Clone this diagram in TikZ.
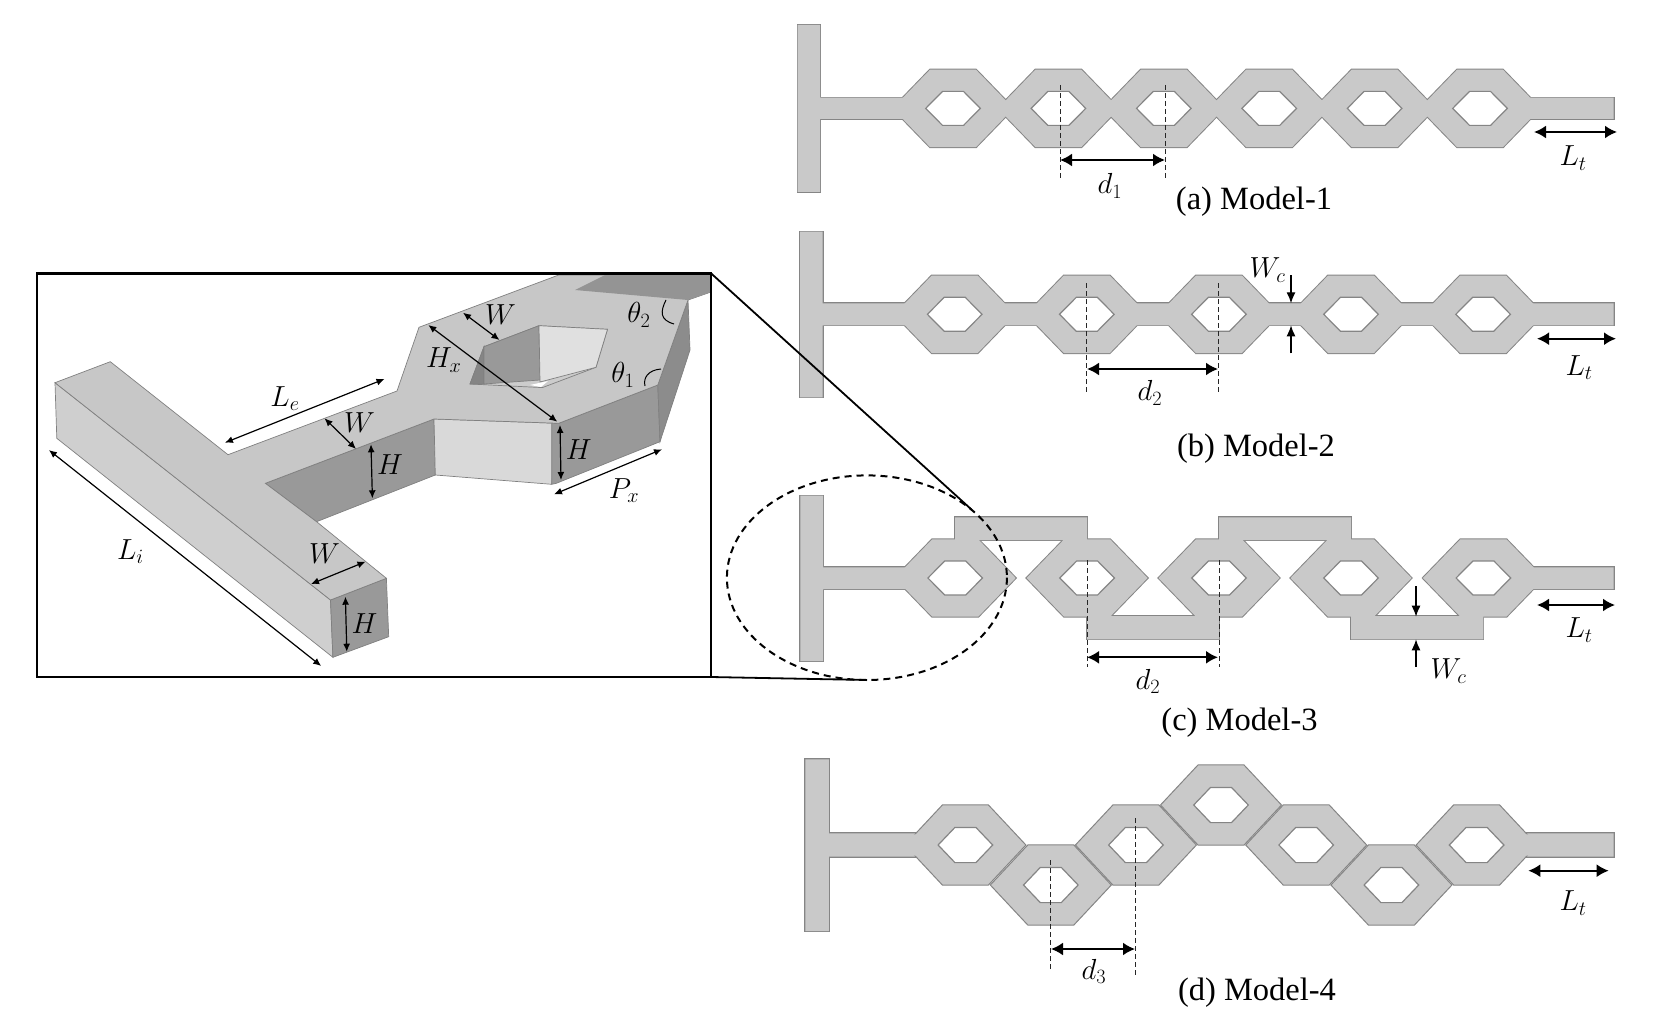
\documentclass[tikz,border=0pt]{standalone}
\usepackage{fix-cm}
\usepackage{amsmath}
\usepackage{fontspec}
\setmainfont{Liberation Serif}
\usetikzlibrary{arrows.meta}
\newcommand{\hexagon}{(-60.5,0) -- (-23,-38.7) -- (23,-38.7) -- (60.5,0) -- (23,38.7) -- (-23,38.7) -- cycle}
\newcommand{\hexhole}{(-27.3,0) -- (-10.5,-17) -- (10.5,-17) -- (27.3,0) -- (10.5,17) -- (-10.5,17) -- cycle}
\begin{document}
\begin{tikzpicture}
		[x=1pt,y=-1pt,
		edgepass/.style ={draw=black!48, line width=2pt, fill=black!48},
		bodypass/.style ={fill=black!21},
		cell/.style ={draw=black!48, line width=1pt, fill=black!21},
		hole/.style ={draw=black!48, line width=1.2pt, fill=white},
		wall/.style ={draw=black!50, line width=.7pt},
		guide/.style ={draw=black!85, line width=1pt, dash pattern=on 5pt off 3pt},
		bigdim/.style ={line width=2pt, <->, >={Latex[length=12pt,width=13pt]}},
		thindim/.style ={line width=1.2pt, <->, >={Latex[length=8pt,width=7pt]}},
		pinch/.style ={line width=1.3pt, ->, >={Latex[length=11pt,width=9pt]}},
		lab/.style ={inner sep=0pt, font=\fontsize{29}{34}\selectfont},
		caption/.style ={inner sep=0pt, font=\fontsize{32.5}{38}\selectfont}]
		\useasboundingbox (0,0) rectangle (1661,1011);

		% model 1
		\foreach \pass in {edgepass,bodypass}{
			\path[\pass] (797.5,25) rectangle (820,192) (815,97.7) rectangle (905,119) (1510,97.7) rectangle (1613.5,119);
			\foreach \cx in {953,1058.4,1163.8,1269.2,1374.6,1480}
				\path[\pass,shift={(\cx,108.4)}] \hexagon;
		}
		\foreach \cx in {953,1058.4,1163.8,1269.2,1374.6,1480}
			\path[hole,shift={(\cx,108.4)}] \hexhole;
		\path[guide] (1060,85) -- (1060,180) (1165,85) -- (1165,180);
		\path[bigdim] (1060,160) edge (1165,160) (1534,132) edge (1617,132);
		\node[lab] (done) at (1110,186) {$d_1$};
		\node[lab] (ltone) at (1573,158) {$L_t$};
		\node[caption] (capone) at (1254,202) {(a) Model-1};

		% model 2
		\foreach \pass in {edgepass,bodypass}{
			\path[\pass] (800,231.5) rectangle (822.7,397.3) (815,303.3) rectangle (915,325.3) (950,303.3) rectangle (1613.5,325.3);
			\foreach \cx in {954.7,1086.8,1218.9,1351,1483.1}
				\path[\pass,shift={(\cx,314.3)}] \hexagon;
		}
		\foreach \cx in {954.7,1086.8,1218.9,1351,1483.1}
			\path[hole,shift={(\cx,314.3)}] \hexhole;
		\path[guide] (1086.8,283) -- (1086.8,393) (1218.9,283) -- (1218.9,393);
		\path[bigdim] (1087,369) edge (1218,369) (1537,338.7) edge (1616,338.7);
		\path[pinch] (1291,275) edge (1291,303.3) (1291,353.3) edge (1291,325.3);
		\node[lab] (wctwo) at (1267.6,270) {$W_c$};
		\node[lab] (dtwo) at (1150,393) {$d_2$};
		\node[lab] (lttwo) at (1579,367.7) {$L_t$};
		\node[caption] (captwo) at (1256,449) {(b) Model-2};

		% model 3
		\foreach \pass in {edgepass,bodypass}{
			\path[\pass] (800.4,495.7) rectangle (823.2,661) (815,567.3) rectangle (915,589) (1520,567.3) rectangle (1613.5,589);
			\path[\pass] (955.2,517.3) rectangle (1087.1,540) (1219,517.3) rectangle (1351,540);
			\path[\pass] (1087.1,616) rectangle (1219,639.3) (1351,616) rectangle (1483.4,639.3);
			\foreach \cx in {955.2,1087.1,1219,1351,1483.4}
				\path[\pass,shift={(\cx,578)}] \hexagon;
		}
		\foreach \cx in {955.2,1087.1,1219,1351,1483.4}
			\path[hole,shift={(\cx,578)}] \hexhole;
		\path[guide] (1087.1,560) -- (1087.1,667) (1219,560) -- (1219,667);
		\path[bigdim] (1087,657.3) edge (1218,657.3) (1537,605) edge (1615,605);
		\path[pinch] (1416,586) edge (1416,616.7) (1416,667) edge (1416,639.3);
		\node[lab] (dthree) at (1148,681.7) {$d_2$};
		\node[lab] (wcthree) at (1448.5,671) {$W_c$};
		\node[lab] (ltthree) at (1579,630) {$L_t$};
		\node[caption] (capthree) at (1239.5,723) {(c) Model-3};

		% model 4
		\foreach \pass in {edgepass,bodypass}
			\path[\pass] (805.3,759.3) rectangle (828.9,931) (820,833.3) rectangle (915,856.7) (1525,833.3) rectangle (1613.5,856.7);
		\foreach \cx/\cy in {965.4/845,1050.8/885,1135.9/845,1221/805,1306.2/845,1391.4/885,1476.6/845}{
			\path[cell,shift={(\cx,\cy)},yscale=1.035] \hexagon;
			\path[hole,shift={(\cx,\cy)},yscale=1.035] \hexhole;
		}
		\path[bodypass] (825,834.3) rectangle (925,855.7) (1520,834.3) rectangle (1612.5,855.7);
		\path[guide] (1050.5,860) -- (1050.5,969.3) (1135.6,818) -- (1135.6,977.3);
		\path[bigdim] (1051,949) edge (1135,949) (1528.3,870.7) edge (1608.7,870.7);
		\node[lab] (dfour) at (1094,971.7) {$d_3$};
		\node[lab] (ltfour) at (1573,903) {$L_t$};
		\node[caption] (capfour) at (1257,993) {(d) Model-4};

		% zoomed part
		\path[wall, fill=black!19] (55,382.7) -- (330.5,600) -- (332.9,657.3) -- (56.8,438.3) -- cycle;
		\path[wall, fill=black!40] (330.5,600) -- (386.4,578.3) -- (388.7,636.7) -- (332.9,657.3) -- cycle;
		\path[wall, fill=black!40] (265.4,483.3) -- (434,419) -- (435.3,475) -- (316.6,521.7) -- cycle;
		\path[wall, fill=black!15] (434,419) -- (558,423.3) -- (551.7,484.3) -- (435.3,475) -- cycle;
		\path[wall, fill=black!40] (551.7,423) -- (558.7,423.3) -- (657.8,385) -- (660,441.7) -- (556.3,483.3) -- (551.7,484.3) -- cycle;
		\path[wall, fill=black!45] (657.8,385) -- (688,300) -- (690,350) -- (660,441.7) -- cycle;
		\path[wall, fill=black!22] (55,382.7) -- (110.3,361.7) -- (228,454.7) -- (397,391) -- (419,327.3) -- (558.7,275) -- (711,275) -- (711,292) -- (688,300) -- (657.8,385) -- (558.7,423.3) -- (434,419) -- (265.4,483.3) -- (316.6,521.7) -- (386.4,578.3) -- (330.5,600) -- cycle;
		\path[fill=black!42] (575,290) -- (605,275) -- (711,275) -- (711,292) -- (688,300) -- cycle;
		\path[wall, fill=black!20] (484,346.7) -- (539,325.7) -- (607.5,329.3) -- (596,367.3) -- (542.4,387.6) -- (470,384) -- cycle;
		\path[wall, fill=black!48] (470,384) -- (484,346.7) -- (484,384) -- cycle;
		\path[wall, fill=black!40] (484,346.7) -- (539,325.7) -- (540,380) -- (484,384) -- cycle;
		\path[wall, fill=black!12] (539,325.7) -- (607.5,329.3) -- (596,367.3) -- (540,382) -- cycle;
		\path[fill=white] (530,385) -- (548,381) -- (541,387) -- cycle;

		\path[thindim] (48.9,450) edge (321.2,666) (224.9,442.7) edge (384.5,379)
			(324.5,418.3) edge (356,449) (371,444.3) edge (372.4,498.3)
			(463,312.7) edge (499.5,340) (428.3,325) edge (557.3,421.7)
			(560,425) edge (561,480) (554,494.3) edge (662,449.3)
			(311,584) edge (365.5,561.7) (345.4,596.7) edge (346.8,651.7);
		\path[draw, line width=1pt] (661,369) .. controls (648,370) and (643,378) .. (645,386);
		\path[draw, line width=1pt] (666,300) .. controls (660,312) and (660,320) .. (674,324);
		\node[lab] (li) at (130.4,551.7) {$L_i$};
		\node[lab] (le) at (285,398.3) {$L_e$};
		\node[lab] (wstem) at (359.4,422.7) {$W$};
		\node[lab] (hstem) at (390,465) {$H$};
		\node[lab] (wtop) at (500.5,315) {$W$};
		\node[lab] (hx) at (443.7,360) {$H_x$};
		\node[lab] (hcorner) at (578.7,450) {$H$};
		\node[lab] (px) at (624,490.7) {$P_x$};
		\node[lab] (thone) at (623,375) {$\theta_1$};
		\node[lab] (thtwo) at (639,315) {$\theta_2$};
		\node[lab] (wend) at (324.5,553.3) {$W$};
		\node[lab] (hend) at (364.5,624) {$H$};

		% zoom frame
		\draw[line width=2.4pt] (37,273.3) rectangle (711,677);
		\draw[line width=1.8pt] (711,273.3) -- (972,510) (711,677) -- (867,680);
		\draw[line width=2pt, dash pattern=on 7pt off 5pt] (866.9,577.7) ellipse [x radius=140, y radius=102.3];
	\end{tikzpicture}
\end{document}
